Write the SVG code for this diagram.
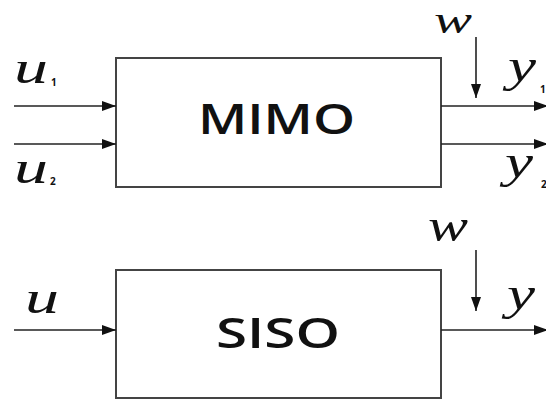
<svg xmlns="http://www.w3.org/2000/svg" width="546" height="399" viewBox="0 0 546 399">
<style>
.box{fill:#fff;stroke:#444;stroke-width:2}
.ln{stroke:#222;stroke-width:1.6;fill:none}
.var{font-family:"Liberation Serif","DejaVu Serif",serif;font-style:italic;font-size:46px;fill:#111}
.sub{font-family:"Open Sans","Liberation Sans",sans-serif;font-weight:bold;font-size:10px;fill:#111}
.big{font-family:"Open Sans","Liberation Sans",sans-serif;font-weight:600;font-size:42px;fill:#111}
</style>
<defs>
<marker id="ah" markerWidth="14" markerHeight="10" refX="14" refY="5" orient="auto" markerUnits="userSpaceOnUse">
<path d="M0,0 L14,5 L0,10 Z" fill="#111"/>
</marker>
</defs>
<rect width="546" height="399" fill="#fff"/>
<g id="mimo">
<rect class="box" x="116" y="58" width="325" height="129"/>
<text class="big" x="198" y="134" textLength="157" lengthAdjust="spacingAndGlyphs">MIMO</text>
</g>
<g id="siso">
<rect class="box" x="116" y="270" width="325" height="128"/>
<text class="big" x="216" y="348" textLength="124" lengthAdjust="spacingAndGlyphs">SISO</text>
</g>
<g id="labels">
<text class="var" x="14" y="83" textLength="34" lengthAdjust="spacingAndGlyphs">u</text><text class="sub" x="51" y="86">1</text>
<text class="var" x="14" y="183" textLength="34" lengthAdjust="spacingAndGlyphs">u</text><text class="sub" x="50" y="185">2</text>
<text class="var" x="434" y="33" style="font-size:37px" textLength="38" lengthAdjust="spacingAndGlyphs">w</text>
<text class="var" x="508" y="81" textLength="28" lengthAdjust="spacingAndGlyphs">y</text><text class="sub" x="540" y="93">1</text>
<text class="var" x="505" y="177" textLength="28" lengthAdjust="spacingAndGlyphs">y</text><text class="sub" x="541" y="188">2</text>
<text class="var" x="25" y="313" textLength="34" lengthAdjust="spacingAndGlyphs">u</text>
<text class="var" x="428" y="241" textLength="40" lengthAdjust="spacingAndGlyphs">w</text>
<text class="var" x="507" y="309" textLength="28" lengthAdjust="spacingAndGlyphs">y</text>
</g>
<g id="connectors">
<line class="ln" x1="14" y1="106" x2="116" y2="106" marker-end="url(#ah)"/>
<line class="ln" x1="14" y1="144" x2="116" y2="144" marker-end="url(#ah)"/>
<line class="ln" x1="441" y1="106" x2="548" y2="106" marker-end="url(#ah)"/>
<line class="ln" x1="441" y1="144" x2="548" y2="144" marker-end="url(#ah)"/>
<line class="ln" x1="476" y1="37" x2="476" y2="98" marker-end="url(#ah)"/>
<line class="ln" x1="14" y1="330" x2="116" y2="330" marker-end="url(#ah)"/>
<line class="ln" x1="441" y1="330" x2="548" y2="330" marker-end="url(#ah)"/>
<line class="ln" x1="476" y1="250" x2="476" y2="311" marker-end="url(#ah)"/>
</g>
</svg>
